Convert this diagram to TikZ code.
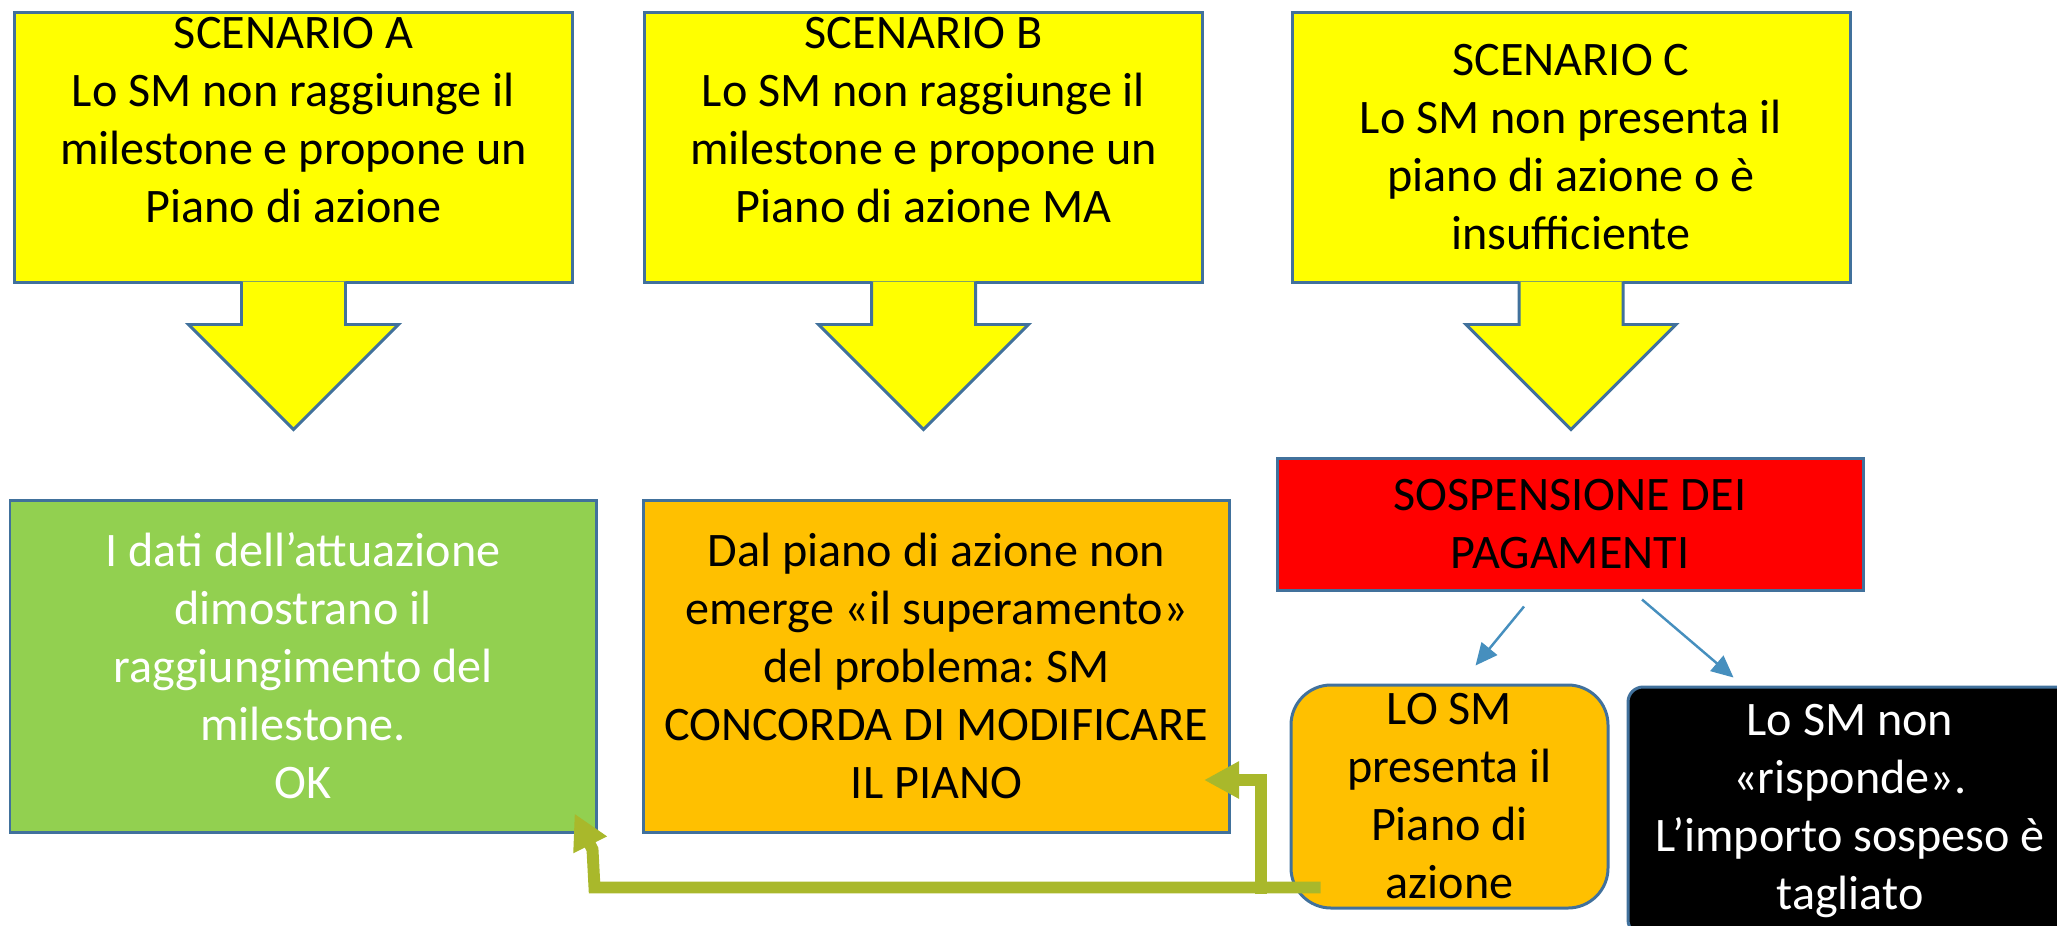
\documentclass[tikz,border=0pt]{standalone}
\usepackage{fontspec}
\setmainfont{Carlito}
\usepackage{tikz}
\usetikzlibrary{arrows.meta,shapes,positioning}
\usepackage{xcolor}
\definecolor{dfyellow}{RGB}{255,255,0}
\definecolor{dfgreen}{RGB}{146,208,80}
\definecolor{dforange}{RGB}{255,192,0}
\definecolor{dfred}{RGB}{255,0,0}
\definecolor{dfedge}{RGB}{65,113,156}
\definecolor{dflink}{RGB}{70,143,190}
\definecolor{dfolive}{RGB}{169,184,43}
\frenchspacing
\newcommand{\boxfont}{\fontsize{13.7}{16.5}\selectfont}
\tikzstyle{scenario} = [rectangle, minimum width=55.8mm, minimum height=27mm, align=center, draw=dfedge, fill=dfyellow, line width=0.85pt, inner sep=0pt, font=\boxfont]
\tikzstyle{callout} = [draw=dfedge, fill=dfyellow, line width=0.85pt]
\tikzstyle{result} = [rectangle, minimum width=58.6mm, minimum height=33.2mm, align=center, draw=dfedge, line width=0.85pt, inner sep=0pt, font=\boxfont]
\tikzstyle{link} = [line width=0.7pt, color=dflink, -{Triangle[length=2.2mm,width=2mm]}]
\tikzstyle{back} = [line width=3.4pt, color=dfolive, -{Triangle[length=3.5mm,width=3.5mm]}]

\begin{document}
\begin{tikzpicture}[x=0.1mm, y=-0.1mm]
\useasboundingbox (0,0) rectangle (2057,925);

% Scenarios
\node[scenario] (scA) at (293.5,147) {SCENARIO A\\Lo SM non raggiunge il\\milestone e propone un\\Piano di azione\\[-6pt]\strut};
\node[scenario] (scB) at (923.5,147) {SCENARIO B\\Lo SM non raggiunge il\\milestone e propone un\\Piano di azione MA\\[-6pt]\strut};
\node[scenario] (scC) at (1571,147) {SCENARIO C\\Lo SM non presenta il\\piano di azione o è\\insufficiente};

% Callout arrows
\filldraw[callout] ([shift={(-52,-2)}]scA.south) -- ++(0,43) -- ++(-53,0) -- ([shift={(0,146)}]scA.south) -- ++(105,-105) -- ++(-53,0) -- ++(0,-43);
\filldraw[callout] ([shift={(-52,-2)}]scB.south) -- ++(0,43) -- ++(-53,0) -- ([shift={(0,146)}]scB.south) -- ++(105,-105) -- ++(-53,0) -- ++(0,-43);
\filldraw[callout] ([shift={(-52,-2)}]scC.south) -- ++(0,43) -- ++(-53,0) -- ([shift={(0,146)}]scC.south) -- ++(105,-105) -- ++(-53,0) -- ++(0,-43);

% Outcomes
\node[result, fill=dfgreen, text=white] (ok) at (303,666) {I dati dell’attuazione\\dimostrano il\\raggiungimento del\\milestone.\\OK};
\node[result, fill=dforange] (plan) at (936.5,666) {Dal piano di azione non\\emerge «il superamento»\\del problema: SM\\CONCORDA DI MODIFICARE\\IL PIANO};
\node[result, fill=dfred, minimum height=13.2mm] (sosp) at (1570,524) {SOSPENSIONE DEI\\PAGAMENTI};

% After suspension
\node[result, fill=dforange, minimum width=31.7mm, minimum height=22.3mm, rounded corners=4mm] (pres) at (1449.5,796.5) {LO SM\\presenta il\\Piano di\\azione};
\node[result, fill=black, text=white, minimum width=44.4mm, minimum height=24.8mm, rounded corners=1.5mm] (cut) at (1850,811) {Lo SM non\\«risponde».\\L’importo sospeso è\\tagliato};

% Arrows
\draw[link] ([shift={(-46,15)}]sosp.south) -- ([shift={(26,-18)}]pres.north);
\draw[link] ([shift={(72,8)}]sosp.south) -- ([shift={(107,-8)}]cut.north west);

% Back to scenarios A and B
\draw[back] ([shift={(31,-22)}]pres.south west) -- ([shift={(-3,54)}]ok.south east) -- ([shift={(-5,16)}]ok.south east) -- ([shift={(-23,-20)}]ok.south east);
\draw[back] ([shift={(-29,-16)}]pres.south west) |- ([shift={(-27,114)}]plan.east);
\end{tikzpicture}
\end{document}
